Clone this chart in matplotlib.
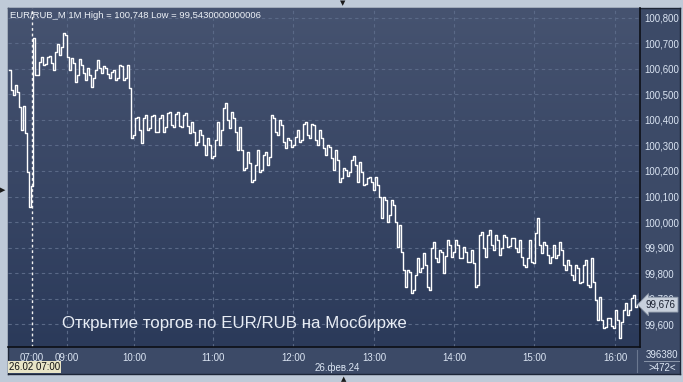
import numpy as np
import matplotlib.pyplot as plt
from matplotlib.colors import LinearSegmentedColormap

plt.rcParams['font.family'] = ['Liberation Sans', 'DejaVu Sans']

# 1-minute EUR/RUB_M bars, grouped in small blocks: high and low of each block
highs = [100.596, 100.537, 100.510, 100.455, 100.349, 100.141, 100.722, 100.627, 100.647, 100.647,
         100.651, 100.667, 100.698, 100.741, 100.733, 100.643, 100.624, 100.639, 100.616, 100.604,
         100.576, 100.596, 100.635, 100.612, 100.604, 100.588, 100.596, 100.616, 100.612, 100.616,
         100.525, 100.408, 100.412, 100.408, 100.420, 100.416, 100.420, 100.408, 100.420, 100.427,
         100.431, 100.424, 100.431, 100.420, 100.427, 100.392, 100.353, 100.361, 100.341, 100.329,
         100.302, 100.322, 100.392, 100.447, 100.467, 100.431, 100.408, 100.373, 100.282, 100.275,
         100.231, 100.224, 100.282, 100.263, 100.275, 100.420, 100.408, 100.400, 100.380, 100.329,
         100.322, 100.333, 100.361, 100.384, 100.392, 100.384, 100.380, 100.361, 100.329, 100.302,
         100.294, 100.282, 100.243, 100.212, 100.204, 100.243, 100.259, 100.235, 100.196, 100.173,
         100.176, 100.176, 100.145, 100.098, 100.086, 100.086, 100.067, 99.988, 99.882, 99.812,
         99.804, 99.792, 99.859, 99.878, 99.831, 99.898, 99.922, 99.890, 99.882, 99.929,
         99.910, 99.929, 99.910, 99.902, 99.882, 99.890, 99.839, 99.949, 99.961, 99.949,
         99.969, 99.949, 99.929, 99.949, 99.941, 99.937, 99.937, 99.929, 99.863, 99.859,
         99.929, 99.957, 100.016, 99.922, 99.910, 99.863, 99.910, 99.922, 99.890, 99.851,
         99.831, 99.831, 99.820, 99.831, 99.851, 99.859, 99.765, 99.706, 99.616, 99.624,
         99.624, 99.655, 99.616, 99.655, 99.682, 99.702, 99.714]
lows = [100.518, 100.498, 100.451, 100.361, 100.196, 100.059, 100.576, 100.576, 100.616, 100.620,
        100.624, 100.596, 100.655, 100.686, 100.647, 100.596, 100.549, 100.576, 100.584, 100.557,
        100.529, 100.565, 100.604, 100.584, 100.580, 100.565, 100.557, 100.565, 100.557, 100.565,
        100.329, 100.341, 100.361, 100.310, 100.361, 100.369, 100.353, 100.353, 100.353, 100.373,
        100.380, 100.373, 100.376, 100.373, 100.376, 100.349, 100.302, 100.314, 100.302, 100.263,
        100.251, 100.259, 100.302, 100.361, 100.400, 100.369, 100.353, 100.282, 100.204, 100.212,
        100.157, 100.165, 100.196, 100.204, 100.224, 100.255, 100.353, 100.341, 100.314, 100.290,
        100.294, 100.302, 100.314, 100.322, 100.341, 100.329, 100.322, 100.302, 100.290, 100.263,
        100.251, 100.204, 100.157, 100.173, 100.180, 100.196, 100.224, 100.157, 100.145, 100.149,
        100.157, 100.125, 100.098, 100.016, 100.000, 100.027, 100.000, 99.902, 99.812, 99.745,
        99.722, 99.733, 99.804, 99.820, 99.745, 99.733, 99.859, 99.843, 99.800, 99.867,
        99.863, 99.882, 99.859, 99.859, 99.843, 99.843, 99.745, 99.753, 99.898, 99.863,
        99.910, 99.890, 99.871, 99.898, 99.902, 99.906, 99.898, 99.882, 99.831, 99.824,
        99.843, 99.839, 99.910, 99.878, 99.871, 99.839, 99.859, 99.871, 99.831, 99.812,
        99.792, 99.773, 99.761, 99.765, 99.753, 99.745, 99.694, 99.616, 99.584, 99.588,
        99.592, 99.584, 99.545, 99.608, 99.635, 99.655, 99.667]
last_price = 99.676

time_ticks = [5.75, 14.5, 31.25, 51, 71, 91.25, 111.25, 131.25, 151.5]
time_labels = ['07:00', '09:00', '10:00', '11:00', '12:00', '13:00', '14:00', '15:00', '16:00']
price_ticks = np.round(np.arange(99.6, 100.81, 0.1), 1)
open_idx = 5.75

W, H = 683, 382
fig = plt.figure(figsize=(W / 100, H / 100), dpi=100)
fig.patch.set_facecolor('#bfcad8')

def box(x0, y0, x1, y1):
    return [x0 / W, 1 - y1 / H, (x1 - x0) / W, (y1 - y0) / H]

# frame panel (right axis + bottom axis strip)
frame = fig.add_axes(box(8, 8, 680, 374))
frame.set_facecolor('#3c4a67')
frame.set_xticks([])
frame.set_yticks([])
for s in frame.spines.values():
    s.set_color('#1d2638')
    s.set_linewidth(1)

ax = fig.add_axes(box(8, 8, 640, 347))
ax.set_xlim(-0.25, 157.75)
ax.set_ylim(99.51, 100.839)

grad = np.linspace(0, 1, 256).reshape(-1, 1)
cmap = LinearSegmentedColormap.from_list('bg', ['#2b3a5a', '#465370'])
ax.imshow(grad, cmap=cmap, extent=[0, 1, 0, 1], transform=ax.transAxes,
          aspect='auto', origin='lower', zorder=0)

for t in time_ticks[1:]:
    ax.axvline(t, color='#5a6987', lw=0.8, ls=(0, (3, 3)), zorder=1)
for p in price_ticks:
    ax.axhline(p, color='#5a6987', lw=0.8, ls=(0, (3, 3)), zorder=1)
ax.axvline(open_idx, color='#f2f2f2', lw=1.0, ls=(0, (2, 2)), zorder=2)

# bar-like trace: vertical strokes through each block's high and low
xs, ys = [], []
for k, (hi, lo) in enumerate(zip(highs, lows)):
    a, b = (hi, lo) if k % 2 == 0 else (lo, hi)
    xs += [k, k + 0.5]
    ys += [a, b]
xs.append(len(highs))
ys.append(last_price)
ax.plot(xs, ys, color='#ffffff', lw=1.0, drawstyle='steps-post', zorder=3)

ax.set_xticks(time_ticks)
ax.set_xticklabels(time_labels)
ax.tick_params(axis='x', length=0, pad=4, labelsize=7, labelcolor='#dce6f4')
ax.yaxis.tick_right()
ax.set_yticks(price_ticks)
ax.set_yticklabels([f'{p:.3f}'.replace('.', ',') for p in price_ticks])
ax.tick_params(axis='y', length=0, pad=3, labelsize=6.9, labelcolor='#dce6f4')
for name, s in ax.spines.items():
    s.set_color('#0c0f16')
    s.set_linewidth(1.2)
    if name in ('top', 'left'):
        s.set_visible(False)

ax.text(0.003, 0.978, 'EUR/RUB_M 1M High = 100,748 Low = 99,5430000000006',
        transform=ax.transAxes, color='#eef2f8', fontsize=6.8, va='center', ha='left')
ax.text(0.085, 0.071, 'Открытие торгов по EUR/RUB на Мосбирже', transform=ax.transAxes,
        color='#e8edf5', fontsize=12.2, va='center', ha='left')

ax.annotate(f'{last_price:.3f}'.replace('.', ','), xy=(1.0, last_price),
            xycoords=('axes fraction', 'data'), xytext=(4, 0), textcoords='offset points',
            va='center', ha='left', fontsize=7, color='#1a2030', annotation_clip=False,
            bbox=dict(boxstyle='larrow,pad=0.25', fc='#c8d0dc', ec='#8c97a8', lw=0.6), zorder=6)

# bottom strip texts
fig.text(9 / W, 1 - 367 / H, '26.02 07:00', fontsize=7, color='#111111', va='center', ha='left',
         bbox=dict(boxstyle='square,pad=0.1', fc='#e8e4c6', ec='none'))
fig.text(337 / W, 1 - 368 / H, '26.фев.24', fontsize=7, color='#dce6f4', va='center', ha='center')
fig.text(662 / W, 1 - 355 / H, '396380', fontsize=7, color='#dce6f4', va='center', ha='center')
fig.text(662 / W, 1 - 368 / H, '>472<', fontsize=7, color='#dce6f4', va='center', ha='center')
fig.add_artist(plt.Line2D([644 / W, 679 / W], [1 - 361 / H] * 2, color='#8a96aa', lw=0.7))
fig.add_artist(plt.Line2D([637 / W] * 2, [1 - 350 / H, 1 - 372 / H], color='#6b7890', lw=0.8))

# small scroll markers on the outer frame
fig.text(343 / W, 1 - 3 / H, '▼', fontsize=5, color='#1a1a1a', ha='center', va='center', family='DejaVu Sans')
fig.text(3 / W, 1 - 190 / H, '▶', fontsize=5, color='#1a1a1a', ha='center', va='center', family='DejaVu Sans')
fig.text(344 / W, 1 - 379 / H, '▲', fontsize=5, color='#1a1a1a', ha='center', va='center', family='DejaVu Sans')

fig.savefig('out.png', dpi=100)
